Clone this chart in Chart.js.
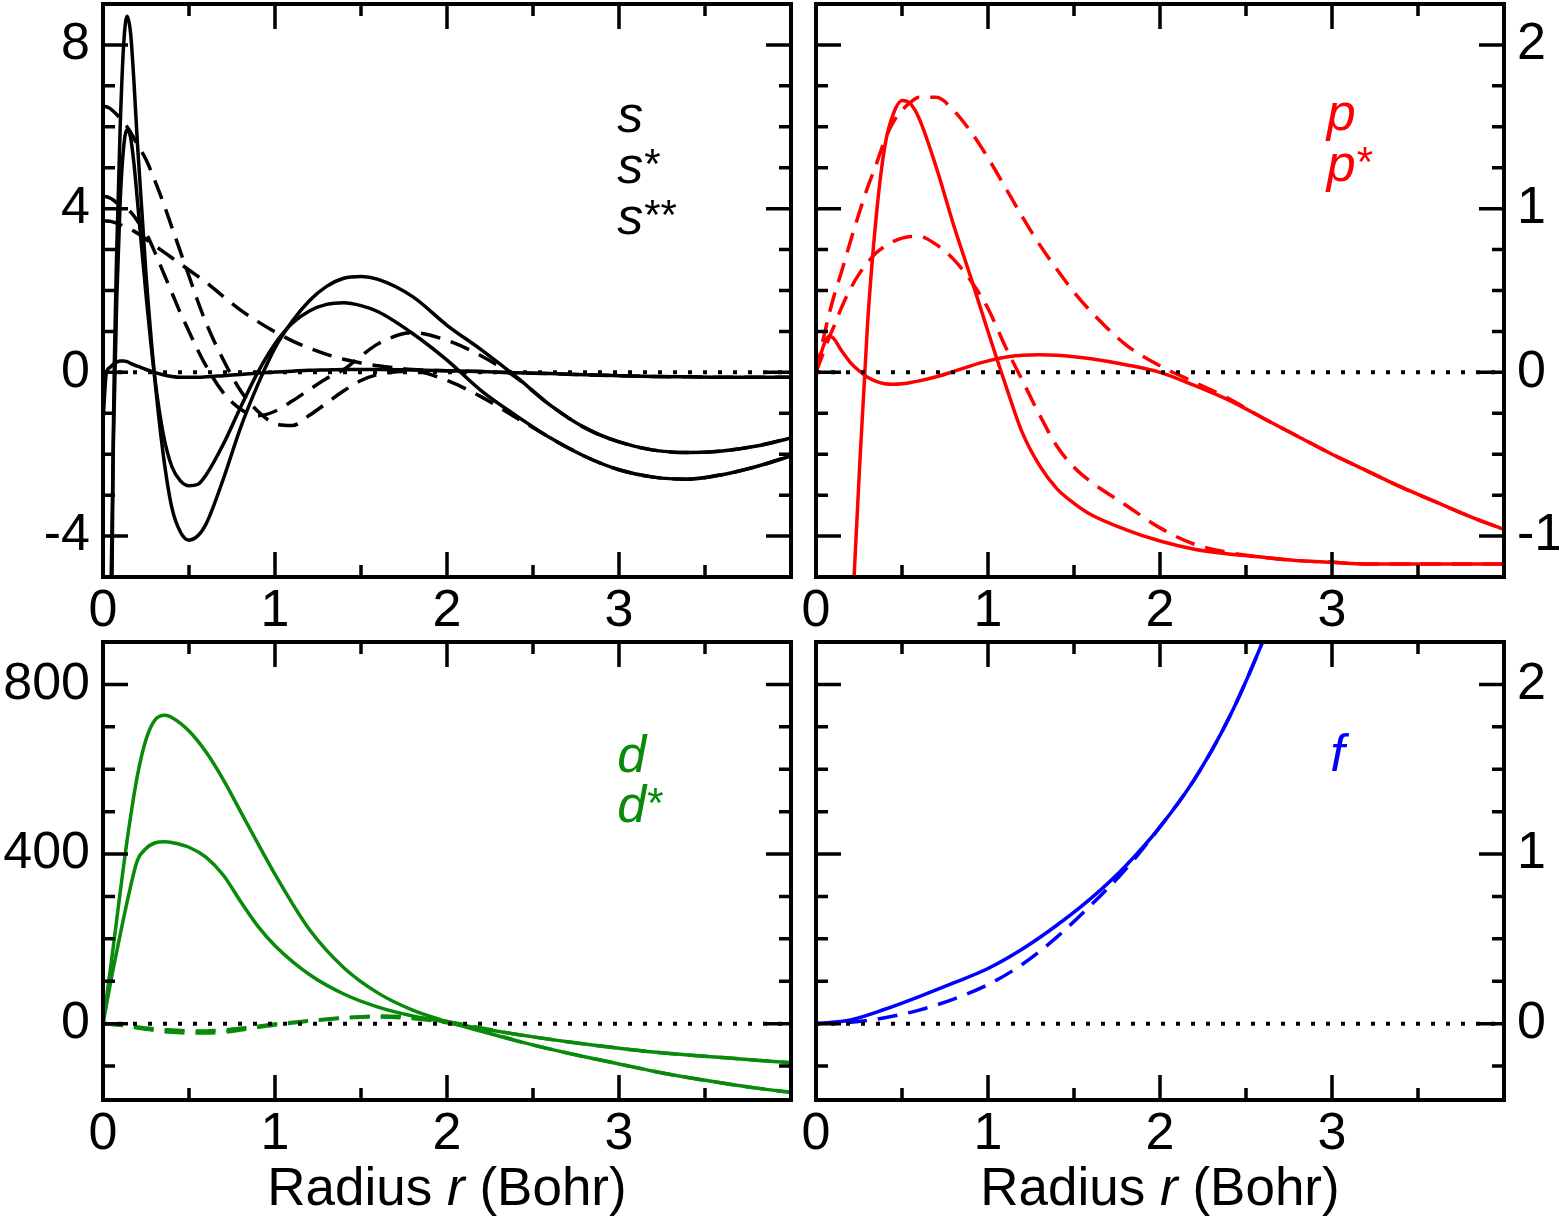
<!DOCTYPE html>
<html>
<head>
<meta charset="utf-8">
<title>Partial waves</title>
<script src="https://cdn.jsdelivr.net/npm/chart.js@4.4.1/dist/chart.umd.min.js"></script>
<style>
  body { margin: 0; background: #fff; }
  .panel { position: absolute; }
</style>
</head>
<body>
<div class="panel" style="left:0;top:0;width:800px;height:640px"><canvas id="sChart"></canvas></div>
<div class="panel" style="left:800px;top:0;width:759px;height:640px"><canvas id="pChart"></canvas></div>
<div class="panel" style="left:0;top:640px;width:800px;height:579px"><canvas id="dChart"></canvas></div>
<div class="panel" style="left:800px;top:640px;width:759px;height:579px"><canvas id="fChart"></canvas></div>
<script>
// radius grid and curves
const xLabels = [0, 1, 2, 3];
const xMajor = [0, 1, 2, 3, 4];
const xMinor = [0.5, 1.5, 2.5, 3.5];

// s channel
const rS = [0, 0.02, 0.04, 0.06, 0.08, 0.1, 0.12, 0.14, 0.16, 0.18, 0.2, 0.25, 0.3, 0.35, 0.4, 0.45, 0.5, 0.55, 0.6, 0.7, 0.8, 0.9, 1.0, 1.1, 1.2, 1.3, 1.4, 1.5, 1.6, 1.8, 2.0, 2.2, 2.4, 2.6, 2.8, 3.0, 3.2, 3.4, 3.6, 3.8, 4.0];
const sSolid1 = [-40, -22, -11, -1.5, 3.0, 6.0, 8.0, 8.7, 8.3, 7.1, 5.6, 2.4, -0.1, -2.0, -3.3, -3.9, -4.1, -4.0, -3.7, -2.6, -1.35, -0.3, 0.6, 1.25, 1.75, 2.1, 2.3, 2.34, 2.27, 1.85, 1.15, 0.55, -0.1, -0.8, -1.35, -1.7, -1.9, -1.96, -1.92, -1.8, -1.6];
const sSolid2 = [-25, -14, -7, -1.8, 1.8, 4.2, 5.5, 5.93, 5.75, 5.1, 4.2, 1.9, -0.1, -1.5, -2.3, -2.65, -2.77, -2.74, -2.5, -1.75, -0.85, 0.0, 0.7, 1.2, 1.5, 1.66, 1.7, 1.63, 1.48, 0.95, 0.3, -0.45, -1.05, -1.6, -2.05, -2.38, -2.56, -2.61, -2.5, -2.3, -2.04];
const sSolid3 = [-1.2, 0.0, 0.12, 0.2, 0.25, 0.28, 0.28, 0.26, 0.22, 0.18, 0.15, 0.07, 0.0, -0.06, -0.1, -0.12, -0.12, -0.12, -0.11, -0.08, -0.05, -0.02, 0.01, 0.03, 0.05, 0.06, 0.07, 0.07, 0.07, 0.06, 0.04, 0.02, -0.01, -0.03, -0.06, -0.08, -0.1, -0.11, -0.12, -0.12, -0.12];
const sDash1 = [6.5, 6.49, 6.45, 6.38, 6.3, 6.2, 6.1, 6.0, 5.87, 5.72, 5.57, 5.2, 4.7, 4.15, 3.55, 2.95, 2.35, 1.75, 1.2, 0.3, -0.45, -0.95, -1.25, -1.3, -1.05, -0.75, -0.45, -0.2, -0.05, 0.03, -0.2, -0.6, -1.1, -1.6, -2.05, -2.38, -2.56, -2.61, -2.5, -2.3, -2.04];
const sDash2 = [4.3, 4.29, 4.26, 4.21, 4.14, 4.09, 4.05, 4.0, 3.92, 3.82, 3.7, 3.4, 2.95, 2.45, 1.95, 1.45, 1.0, 0.55, 0.15, -0.5, -0.9, -1.06, -0.95, -0.7, -0.42, -0.15, 0.07, 0.4, 0.7, 0.97, 0.78, 0.4, -0.12, -0.8, -1.35, -1.7, -1.9, -1.96, -1.92, -1.8, -1.6];
const sDash3 = [3.7, 3.7, 3.69, 3.67, 3.64, 3.61, 3.57, 3.53, 3.49, 3.45, 3.4, 3.25, 3.1, 2.95, 2.8, 2.65, 2.5, 2.35, 2.2, 1.85, 1.52, 1.24, 0.99, 0.77, 0.59, 0.44, 0.32, 0.23, 0.16, 0.07, 0.04, 0.02, -0.01, -0.03, -0.06, -0.08, -0.1, -0.11, -0.12, -0.12, -0.12];
const sTicks = [-4, 0, 4, 8];

// p channel
const rP = [0, 0.025, 0.05, 0.075, 0.1, 0.15, 0.2, 0.25, 0.3, 0.35, 0.4, 0.45, 0.5, 0.55, 0.6, 0.7, 0.8, 0.9, 1.0, 1.1, 1.2, 1.3, 1.4, 1.5, 1.6, 1.8, 2.0, 2.2, 2.4, 2.6, 2.8, 3.0, 3.2, 3.4, 3.6, 3.8, 4.0];
const pSolid1 = [-20, -14, -10, -7.5, -5.6, -2.8, -1.7, -0.65, 0.3, 0.95, 1.38, 1.58, 1.66, 1.64, 1.55, 1.25, 0.9, 0.58, 0.25, -0.07, -0.37, -0.57, -0.71, -0.8, -0.87, -0.96, -1.03, -1.08, -1.11, -1.13, -1.15, -1.16, -1.17, -1.17, -1.17, -1.17, -1.17];
const pSolid2 = [0, 0.1, 0.18, 0.22, 0.21, 0.13, 0.06, 0.01, -0.03, -0.055, -0.07, -0.073, -0.07, -0.062, -0.052, -0.027, 0.005, 0.04, 0.07, 0.092, 0.104, 0.108, 0.105, 0.096, 0.083, 0.047, 0.0, -0.08, -0.17, -0.28, -0.39, -0.5, -0.6, -0.7, -0.79, -0.88, -0.96];
const pDash1 = [0, 0.12, 0.24, 0.35, 0.45, 0.62, 0.8, 0.97, 1.13, 1.27, 1.42, 1.53, 1.6, 1.65, 1.68, 1.68, 1.6, 1.47, 1.31, 1.13, 0.95, 0.78, 0.63, 0.49, 0.37, 0.17, 0.04, -0.06, -0.16, -0.28, -0.39, -0.5, -0.6, -0.7, -0.79, -0.88, -0.96];
const pDash2 = [0, 0.07, 0.14, 0.21, 0.27, 0.4, 0.51, 0.6, 0.67, 0.73, 0.77, 0.8, 0.82, 0.83, 0.83, 0.78, 0.69, 0.56, 0.39, 0.16, -0.05, -0.26, -0.45, -0.58, -0.67, -0.81, -0.95, -1.05, -1.1, -1.13, -1.15, -1.16, -1.17, -1.17, -1.17, -1.17, -1.17];
const pTicks = [-1, 0, 1, 2];

// d channel
const rD = [0, 0.05, 0.1, 0.15, 0.2, 0.25, 0.3, 0.36, 0.4, 0.5, 0.6, 0.7, 0.8, 0.9, 1.0, 1.2, 1.4, 1.6, 1.8, 2.0, 2.2, 2.4, 2.6, 2.8, 3.0, 3.2, 3.4, 3.6, 3.8, 4.0];
const dSolid1 = [0, 150, 310, 460, 585, 670, 715, 727, 722, 690, 640, 575, 500, 425, 352, 222, 132, 72, 32, 5, -18, -40, -60, -78, -95, -112, -127, -140, -152, -162];
const dSolid2 = [0, 110, 210, 305, 385, 413, 426, 429, 427, 416, 392, 350, 288, 230, 184, 116, 70, 39, 18, 3, -12, -25, -37, -48, -58, -67, -74, -80, -86, -92];
const dDash1 = [0, -2, -4, -7, -10, -13, -16, -19, -20, -22, -22, -20, -15, -9, -3, 6, 13, 16, 12, 2, -15, -40, -60, -78, -95, -112, -127, -140, -152, -162];
const dDash2 = [0, -1.5, -3, -5, -8, -10, -12, -14, -15, -17, -17, -15, -11, -6, -1, 7, 14, 18, 15, 5, -10, -25, -37, -48, -58, -67, -74, -80, -86, -92];
const dTicks = [0, 400, 800];

// f channel
const rF = [0, 0.2, 0.4, 0.6, 0.8, 1.0, 1.2, 1.4, 1.6, 1.8, 2.0, 2.2, 2.4, 2.6, 2.8];
const fSolid = [0, 0.022, 0.085, 0.16, 0.24, 0.325, 0.44, 0.58, 0.74, 0.93, 1.16, 1.44, 1.8, 2.26, 2.8];
const fDash = [0, 0.008, 0.035, 0.08, 0.145, 0.23, 0.35, 0.51, 0.7, 0.91, 1.16, 1.44, 1.8, 2.26, 2.8];
const fTicks = [0, 1, 2];

const RED = '#ff0000';
const GREEN = '#0a8a0a';
const BLUE = '#0000ff';
const FONT = '"Liberation Sans", Arial, Helvetica, sans-serif';

function curve(xs, ys, color, dashed) {
    return {
        data: xs.map((x, i) => ({ x: x, y: ys[i] })),
        borderColor: color,
        borderWidth: 3.5,
        borderDash: dashed ? [20, 11] : [],
        cubicInterpolationMode: 'monotone',
        pointRadius: 0,
        fill: false,
        clip: 0
    };
}

function zeroLine() {
    return {
        data: [{ x: 0, y: 0 }, { x: 4, y: 0 }],
        borderColor: '#000',
        borderWidth: 4,
        borderDash: [4, 11],
        pointRadius: 0,
        clip: 0
    };
}

function steps(lo, hi, step) {
    const out = [];
    for (let v = lo; v <= hi + 1e-9; v += step) out.push(Math.round(v * 1000) / 1000);
    return out;
}

// frame, inward ticks on all sides, curve labels and axis title
const frameTicks = {
    id: 'frameTicks',
    afterDatasetsDraw(chart, args, opts) {
        const ctx = chart.ctx;
        const a = chart.chartArea;
        const xs = chart.scales.x, ys = chart.scales.y;
        ctx.save();
        ctx.strokeStyle = '#000';
        ctx.lineWidth = 3.5;
        ctx.setLineDash([]);
        ctx.beginPath();
        const vtick = (v, len) => {
            const p = xs.getPixelForValue(v);
            ctx.moveTo(p, a.bottom); ctx.lineTo(p, a.bottom - len);
            ctx.moveTo(p, a.top); ctx.lineTo(p, a.top + len);
        };
        const htick = (v, len) => {
            const p = ys.getPixelForValue(v);
            ctx.moveTo(a.left, p); ctx.lineTo(a.left + len, p);
            ctx.moveTo(a.right, p); ctx.lineTo(a.right - len, p);
        };
        xMajor.forEach(v => vtick(v, 25));
        xMinor.forEach(v => vtick(v, 12));
        opts.yMinor.forEach(v => htick(v, 12));
        opts.yMajor.forEach(v => htick(v, 25));
        ctx.stroke();
        ctx.lineWidth = 4;
        ctx.strokeRect(a.left, a.top, a.right - a.left, a.bottom - a.top);

        // curve labels
        ctx.textAlign = 'left';
        ctx.textBaseline = 'alphabetic';
        (opts.notes || []).forEach(n => {
            const x = xs.getPixelForValue(n.x);
            const y = ys.getPixelForValue(n.y);
            ctx.fillStyle = opts.color;
            ctx.font = 'italic 52px ' + FONT;
            ctx.fillText(n.text, x, y);
            if (n.sup) {
                const w = ctx.measureText(n.text).width;
                ctx.font = '42px ' + FONT;
                ctx.fillText(n.sup, x + w + 1, y - 5);
            }
        });

        // axis title
        if (opts.title) {
            const parts = [['Radius ', false], ['r', true], [' (Bohr)', false]];
            let total = 0;
            parts.forEach(p => {
                ctx.font = (p[1] ? 'italic ' : '') + '53px ' + FONT;
                total += ctx.measureText(p[0]).width;
            });
            let x = (a.left + a.right) / 2 - total / 2;
            const y = a.bottom + 105;
            ctx.fillStyle = '#000';
            parts.forEach(p => {
                ctx.font = (p[1] ? 'italic ' : '') + '53px ' + FONT;
                ctx.fillText(p[0], x, y);
                x += ctx.measureText(p[0]).width;
            });
        }
        ctx.restore();
    }
};

function noPad(s) {
    s.paddingTop = 0;
    s.paddingBottom = 0;
    s.paddingLeft = 0;
    s.paddingRight = 0;
}

function makeChart(id, cfg) {
    return new Chart(document.getElementById(id), {
        type: 'line',
        data: { datasets: [zeroLine()].concat(cfg.datasets) },
        options: {
            responsive: true,
            maintainAspectRatio: false,
            animation: false,
            events: [],
            layout: { padding: cfg.padding },
            plugins: {
                legend: { display: false },
                tooltip: { enabled: false },
                frameTicks: cfg.frame
            },
            scales: {
                x: {
                    type: 'linear',
                    min: 0,
                    max: 4,
                    grid: { display: false, drawTicks: false },
                    border: { display: false },
                    ticks: {
                        color: '#000',
                        font: { family: FONT, size: 52 },
                        padding: 3,
                        maxRotation: 0,
                        autoSkip: false,
                        callback: v => String(v)
                    },
                    afterBuildTicks: s => { s.ticks = xLabels.map(v => ({ value: v })); },
                    afterFit: s => { s.height = cfg.xHeight; noPad(s); }
                },
                y: {
                    type: 'linear',
                    position: cfg.yPos,
                    min: cfg.yMin,
                    max: cfg.yMax,
                    grid: { display: false, drawTicks: false },
                    border: { display: false },
                    ticks: {
                        color: '#000',
                        font: { family: FONT, size: 52 },
                        padding: 13,
                        autoSkip: false,
                        callback: v => String(v)
                    },
                    afterBuildTicks: s => { s.ticks = cfg.yTicks.map(v => ({ value: v })); },
                    afterFit: s => { s.width = cfg.yWidth; noPad(s); }
                }
            }
        },
        plugins: [frameTicks]
    });
}

makeChart('sChart', {
    datasets: [
        curve(rS, sDash1, '#000', true),
        curve(rS, sDash2, '#000', true),
        curve(rS, sDash3, '#000', true),
        curve(rS, sSolid1, '#000', false),
        curve(rS, sSolid2, '#000', false),
        curve(rS, sSolid3, '#000', false)
    ],
    padding: { top: 4, right: 9, left: 0, bottom: 0 },
    xHeight: 63, yWidth: 103, yPos: 'left',
    yMin: -5, yMax: 9, yTicks: sTicks,
    frame: {
        yMajor: sTicks, yMinor: steps(-5, 9, 1), color: '#000',
        notes: [{ x: 2.99, y: 5.88, text: 's' }, { x: 2.99, y: 4.63, text: 's', sup: '*' }, { x: 2.99, y: 3.37, text: 's', sup: '**' }]
    }
});

makeChart('pChart', {
    datasets: [
        curve(rP, pDash1, RED, true),
        curve(rP, pDash2, RED, true),
        curve(rP, pSolid1, RED, false),
        curve(rP, pSolid2, RED, false)
    ],
    padding: { top: 4, right: 0, left: 16, bottom: 0 },
    xHeight: 63, yWidth: 55, yPos: 'right',
    yMin: -1.25, yMax: 2.25, yTicks: pTicks,
    frame: {
        yMajor: pTicks, yMinor: steps(-1.25, 2.25, 0.25), color: RED,
        notes: [{ x: 2.97, y: 1.48, text: 'p' }, { x: 2.97, y: 1.17, text: 'p', sup: '*' }]
    }
});

makeChart('dChart', {
    datasets: [
        curve(rD, dDash1, GREEN, true),
        curve(rD, dDash2, GREEN, true),
        curve(rD, dSolid1, GREEN, false),
        curve(rD, dSolid2, GREEN, false)
    ],
    padding: { top: 2, right: 9, left: 0, bottom: 0 },
    xHeight: 119, yWidth: 103, yPos: 'left',
    yMin: -180, yMax: 900, yTicks: dTicks,
    frame: {
        yMajor: dTicks, yMinor: steps(-100, 900, 100), color: GREEN, title: true,
        notes: [{ x: 2.99, y: 593, text: 'd' }, { x: 2.99, y: 475, text: 'd', sup: '*' }]
    }
});

makeChart('fChart', {
    datasets: [
        curve(rF, fDash, BLUE, true),
        curve(rF, fSolid, BLUE, false)
    ],
    padding: { top: 2, right: 0, left: 16, bottom: 0 },
    xHeight: 119, yWidth: 55, yPos: 'right',
    yMin: -0.45, yMax: 2.25, yTicks: fTicks,
    frame: {
        yMajor: fTicks, yMinor: steps(-0.25, 2.25, 0.25), color: BLUE, title: true,
        notes: [{ x: 2.99, y: 1.49, text: 'f' }]
    }
});
</script>
</body>
</html>
